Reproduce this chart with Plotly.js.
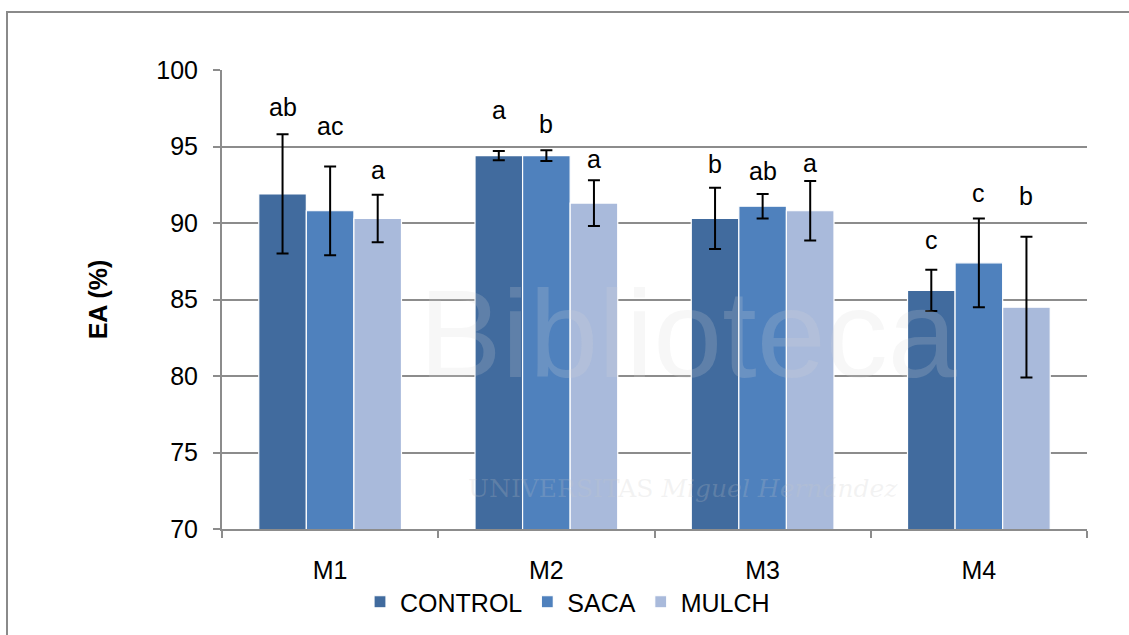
<!DOCTYPE html>
<html>
<head>
<meta charset="utf-8">
<script src="https://cdn.plot.ly/plotly-3.0.1.min.js"></script>
<style>html,body{margin:0;padding:0;background:#fff;}#chart{width:1129px;height:635px;}</style>
</head>
<body>
<div id="chart"></div>
<script>
// ---- data ----
const categories = ['M1', 'M2', 'M3', 'M4'];
const seriesNames = ['CONTROL', 'SACA', 'MULCH'];
const control = [91.9, 94.4, 90.3, 85.6];
const controlErr = [3.9, 0.3, 2.0, 1.35];
const saca = [90.8, 94.4, 91.1, 87.4];
const sacaErr = [2.9, 0.35, 0.8, 2.9];
const mulch = [90.3, 91.3, 90.8, 84.5];
const mulchErr = [1.55, 1.5, 1.95, 4.6];
const controlLetters = ['ab', 'a', 'b', 'c'];
const sacaLetters = ['ac', 'b', 'ab', 'c'];
const mulchLetters = ['a', 'a', 'a', 'b'];
const yTicks = [70, 75, 80, 85, 90, 95, 100];

// ---- styles ----
const colors = ['#416b9e', '#4f81bd', '#a9badb'];
const labelShift = [[11, 25, 8, 14], [24, 10, 7, 9], [9, 5, 2, 25]];
const FONT = 'Liberation Sans, Arial, sans-serif';
const GRID = '#8c8c8c';

const W = 1129, H = 635;
const M = {l: 222, r: 42, t: 70, b: 106, autoexpand: false};
const plotW = W - M.l - M.r, plotH = H - M.t - M.b;
const bargap = 0.34;
const barPx = plotW / categories.length * (1 - bargap) / 3;

const vals = [control, saca, mulch];
const errs = [controlErr, sacaErr, mulchErr];
const letters = [controlLetters, sacaLetters, mulchLetters];

const traces = seriesNames.map((name, i) => ({
  type: 'bar', name: name, x: categories, y: vals[i],
  marker: {color: colors[i], line: {color: '#ffffff', width: 1.2}},
  error_y: {type: 'data', array: errs[i], visible: true, color: '#000000', thickness: 2, width: 6}
}));

const px2x = p => (p - M.l) / plotW;
const py2y = p => (H - M.b - p) / plotH;

const annotations = [];
// faint watermark (behind labels)
annotations.push({x: px2x(688), y: py2y(405), xref: 'paper', yref: 'paper', text: 'Biblioteca', showarrow: false,
  font: {family: FONT, size: 124, color: 'rgba(215,215,215,0.2)'}});
annotations.push({x: px2x(683), y: py2y(505), xref: 'paper', yref: 'paper', text: 'UNIVERSITAS <i>Miguel Hernández</i>', showarrow: false,
  font: {family: 'DejaVu Serif, serif', size: 25, color: 'rgba(200,200,200,0.22)'}});
seriesNames.forEach((n, i) => {
  categories.forEach((c, j) => {
    annotations.push({
      x: c, y: vals[i][j] + errs[i][j], xref: 'x', yref: 'y',
      text: letters[i][j], showarrow: false, yanchor: 'bottom',
      xshift: (i - 1) * barPx, yshift: labelShift[i][j],
      font: {family: FONT, size: 25, color: '#000000'}
    });
  });
});

const layout = {
  width: W, height: H, margin: M,
  paper_bgcolor: '#ffffff', plot_bgcolor: 'rgba(0,0,0,0)',
  barmode: 'group', bargap: bargap, bargroupgap: 0,
  font: {family: FONT, size: 25, color: '#000000'},
  showlegend: true,
  legend: {orientation: 'h', x: px2x(360), xanchor: 'left', y: py2y(602), yanchor: 'middle',
    font: {family: FONT, size: 25, color: '#000000'}, bgcolor: 'rgba(0,0,0,0)'},
  xaxis: {type: 'category', automargin: false, showline: true, linecolor: GRID, linewidth: 2, ticks: 'outside',
    tickson: 'boundaries', ticklen: 7, tickcolor: GRID, tickwidth: 2, showgrid: false,
    ticklabelstandoff: 18, tickfont: {family: FONT, size: 25}},
  yaxis: {range: [70, 100], automargin: false, tickvals: yTicks, ticks: 'outside', ticklen: 7, tickcolor: GRID, tickwidth: 2,
    showline: true, linecolor: GRID, linewidth: 2, showgrid: true, gridcolor: GRID, gridwidth: 2,
    zeroline: false, ticklabelstandoff: 10, tickfont: {family: FONT, size: 25},
    title: {text: '<b>EA (%)</b>', font: {family: FONT, size: 25}, standoff: 42}},
  annotations: annotations,
  shapes: [{type: 'rect', xref: 'paper', yref: 'paper', x0: px2x(7), x1: px2x(1140), y0: py2y(650), y1: py2y(12),
    line: {color: '#8a8a8a', width: 2}, fillcolor: 'rgba(0,0,0,0)', layer: 'below'}]
};

Plotly.newPlot('chart', traces, layout, {displayModeBar: false, staticPlot: true});
</script>
</body>
</html>
